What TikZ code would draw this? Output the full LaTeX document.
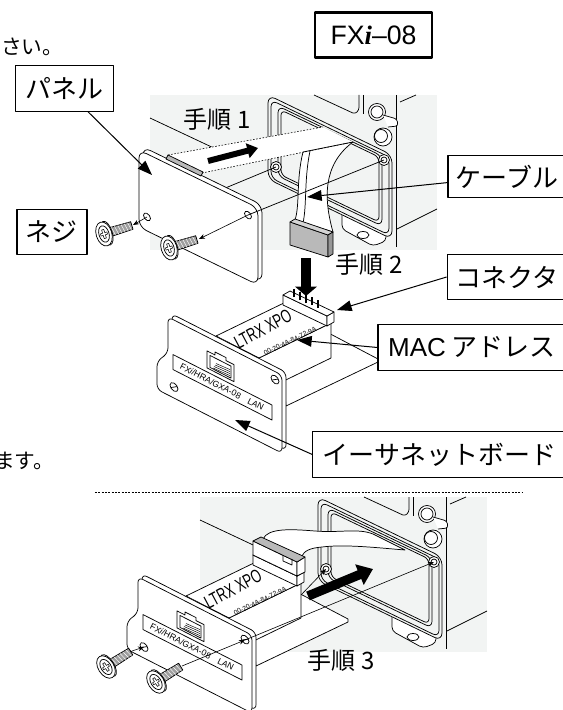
\documentclass[tikz,border=0pt]{standalone}
\usepackage{fontspec}
\usepackage{graphicx}
\setmainfont{Liberation Sans}
\newfontfamily\jpfont{Noto Sans CJK JP}
\newfontfamily\italicserif{Liberation Serif}
\usetikzlibrary{arrows.meta, positioning}
\definecolor{housingcolor}{RGB}{242,244,243}
\definecolor{plugcolor}{RGB}{185,185,185}
\definecolor{plugdark}{RGB}{150,150,150}

\begin{document}
\begin{tikzpicture}[
    x=0.75pt, y=-0.75pt,
    line width=0.55pt, line join=round,
    labelbox/.style={draw, line width=0.8pt, font=\jpfont\fontsize{19.5}{20}\selectfont, inner sep=0pt, minimum height=34pt},
    steplabel/.style={font=\jpfont\fontsize{18}{18}\selectfont, inner sep=0pt},
    notetext/.style={font=\jpfont\fontsize{15.5}{16}\selectfont, inner sep=0pt, anchor=west},
    leader/.style={-{Triangle[length=11pt,width=8pt]}, line width=0.75pt},
    guide/.style={-{Stealth[length=4.5pt,width=3.5pt]}, line width=0.45pt},
    pusharrow/.style={-{Triangle[length=8pt,width=11pt]}, line width=4.5pt},
    ghost/.style={dash pattern=on 1.2pt off 1.2pt, line width=0.45pt},
    housing/.pic={
        \fill[housingcolor] (150,95) rectangle (437,250);
        \draw (150,118) -- (218,150);
        \draw[rounded corners=2] (314,95) -- (355,114) -- (359,110) -- (359,95);
        \draw (363,95) -- (363,114);
        \draw (396,95) -- (396,247);
        \draw (400,102) -- (416,95);
        \draw (397,229) -- (437,209);
        % mounting tab
        \draw[fill=white, rounded corners=3] (342,210) -- (342,229) -- (373,246) -- (386,241) -- (386,230) -- cycle;
        \draw (363,235) ellipse (6 and 3.5);
        % front frame
        \draw[fill=housingcolor, rounded corners=6] (268,95) -- (268,179) -- (392,239) -- (392,155) -- cycle;
        \draw[rounded corners=5] (271,100) -- (271,178) -- (389,235) -- (389,157) -- cycle;
        \draw[rounded corners=5] (278,106) -- (278,176) -- (382,226) -- (382,156) -- cycle;
        \draw[rounded corners=4] (281,110) -- (281,175) -- (379,222) -- (379,157) -- cycle;
        \draw[fill=white] (276,167) circle (5.5);
        \draw (276,167) circle (3);
        \draw[fill=white] (384,160) circle (5.5);
        \draw (384,160) circle (3);
        % knobs
        \draw[fill=white] (377,112) circle (8.5);
        \draw (377,112) circle (6);
        \draw[fill=white, rounded corners=2] (383,115) -- (397,119) -- (398,126) -- (388,127);
        \draw[fill=white] (383,137) circle (9);
        \draw (381,136) circle (6.5);
    },
    board/.pic={
        % circuit board
        \draw[fill=white] (300,318) -- (378,359) -- (378,362) -- (286,406) -- (284,382) -- cycle;
        % module
        \draw[fill=white] (259,358) -- (331,323) -- (331,358) -- (259,393) -- cycle;
        \draw[fill=white] (216,336) -- (288,301) -- (331,323) -- (259,358) -- cycle;
        % pin header
        \draw[fill=white] (283,295) -- (327,316) -- (327,326) -- (283,305) -- cycle;
        \draw[fill=white] (327,316) -- (334,312) -- (334,322) -- (327,326) -- cycle;
        \draw[fill=white] (283,295) -- (290,291) -- (334,312) -- (327,316) -- cycle;
        \node[rotate=28, inner sep=0pt] (-brand) at (263,329) {\fontsize{14}{14}\selectfont\scalebox{0.68}[1]{LTRX XPO}};
        \node[rotate=25, inner sep=0pt] (-address) at (290,341) {\fontsize{5}{6}\selectfont 00-20-4A-84-72-9A};
        % front plate
        \begin{scope}[shift={(168,317)}, yslant=-0.51]
            \draw[fill=white, rounded corners=4] (4,-5) -- (118,-5) -- (118,73) -- (-7,73) -- (-7,45) -- (4,31) -- cycle;
            \draw[fill=white, rounded corners=4] (0,0) -- (114,0) -- (114,78) -- (-11,78) -- (-11,50) -- (0,36) -- cycle;
            \draw (5,35) rectangle (104,50);
            \draw (39,14) -- (47,14) -- (47,11) -- (58,11) -- (58,14) -- (66,14) -- (66,31) -- (39,31) -- cycle;
            \draw (42,17) -- (63,17) -- (63,29) -- (42,29) -- cycle;
            \draw[line width=0.35pt] (48,22) -- (62,21) (47,24) -- (62,23) (46,26) -- (62,25) (45,28) -- (62,27);
            \draw[fill=white] (6,67) circle (4);
            \draw (3,69) -- (9,65);
            \draw[fill=white] (107,8) circle (4);
            \draw (104,10) -- (110,6);
        \end{scope}
        \node[rotate=-27, inner sep=0pt] (-tag) at (222,387) {\fontsize{6.5}{7}\selectfont FX\textit{i}/HRA/GXA-08\quad LAN};
    },
    screw/.pic={
        \draw[fill=gray!75] (5,-4) -- (26,-3.5) -- (26,3.5) -- (5,4) -- cycle;
        \draw[white, line width=0.35pt] (8,-3.8) -- (9.5,3.8) (11,-3.8) -- (12.5,3.8) (14,-3.7) -- (15.5,3.7) (17,-3.7) -- (18.5,3.7) (20,-3.6) -- (21.5,3.6) (23,-3.6) -- (24.5,3.6);
        \draw[fill=white] (2.5,0) ellipse (5 and 11);
        \draw[fill=white] (0,0) ellipse (7 and 11);
        \draw (0,0) ellipse (4.5 and 7.5);
        \draw[fill=white, line width=0.4pt] (-1,-4) -- (1,-4) -- (1,-1) -- (3,-1) -- (3,1) -- (1,1) -- (1,4) -- (-1,4) -- (-1,1) -- (-3,1) -- (-3,-1) -- (-1,-1) -- cycle;
    }
]
    \useasboundingbox (0,0) rectangle (562,710);

    % Housings
    \pic (upperhousing) at (0,0) {housing};
    \pic (lowerhousing) at (50,402) {housing};

    % Step 1: cover taken off
    \fill[white] (168,155) -- (323,127) -- (353,142) -- (202,173) -- cycle;
    \draw[fill=white] (303,152) .. controls (296,180) and (300,205) .. (295,220) -- (333,232) .. controls (324,200) and (322,165) .. (353,142) -- cycle;
    \draw (310,151) .. controls (304,180) and (307,205) .. (303,223);
    \draw[ghost] (168,155) -- (323,127);
    \draw[ghost] (202,173) -- (353,142);
    \draw[fill=plugcolor] (290,222) -- (328,235) -- (328,257) -- (290,245) -- cycle;
    \draw[fill=plugcolor!60] (290,222) -- (295,219) -- (333,232) -- (328,235) -- cycle;
    \draw[fill=plugdark] (328,235) -- (333,232) -- (333,254) -- (328,257) -- cycle;

    \coordinate (coverEdge) at (223,189);
    \coordinate (frameHoleA) at (276,167);
    \coordinate (frameHoleB) at (384,160);
    \draw (coverEdge) -- (frameHoleA);

    \begin{scope}[shift={(139,150)}, yslant=-0.487]
        \draw[fill=white, rounded corners=6] (4,-5) -- (123,-5) -- (123,72) -- (4,72) -- cycle;
        \draw[fill=white, rounded corners=6] (0,0) -- (119,0) -- (119,77) -- (0,77) -- cycle;
        \draw (8,63) circle (3.5);
        \draw (109,12) circle (3.5);
    \end{scope}
    \draw[fill=plugcolor] (166,159) -- (168,155) -- (203,172) -- (201,176) -- cycle;

    \coordinate (coverHoleA) at (147,217);
    \coordinate (coverHoleB) at (248,215);
    \draw (coverHoleB) -- (frameHoleB);

    \coordinate (pushA) at (208,161);
    \coordinate (pushB) at (258,148);
    \draw[pusharrow] (pushA) -- (pushB);

    % Screws of the cover
    \pic[rotate=17, scale=1.12] (screwA) at (104,234) {screw};
    \pic[rotate=17, scale=1.12] (screwB) at (169,248) {screw};
    \coordinate (screwTipA) at (133,225);
    \coordinate (screwTipB) at (199,239);
    \draw[guide] (coverHoleA) -- (screwTipA);
    \draw[guide] (coverHoleB) -- (screwTipB);

    % Step 2: cable onto the board
    \pic (upperboard) at (0,0) {board};
    \draw[line width=0.9pt] (294,297) -- (294,289) (300,300) -- (300,292) (306,303) -- (306,295) (312,305) -- (312,297) (318,308) -- (318,300);
    \coordinate (pushC) at (306,258);
    \coordinate (pushD) at (306,296);
    \draw[-{Triangle[length=7pt,width=16pt]}, line width=8pt] (pushC) -- (pushD);

    % Separator
    \coordinate (sepL) at (95,492);
    \coordinate (sepR) at (523,492);
    \draw[dash pattern=on 1.5pt off 1pt, line width=0.5pt] (sepL) -- (sepR);

    % Step 3: board into the housing
    \draw[fill=white] (263,539) .. controls (268,528) and (290,529) .. (315,531) .. controls (340,533) and (358,528) .. (373,534) -- (405,550) .. controls (380,548) and (345,544) .. (322,547) .. controls (310,548) and (304,551) .. (302,556) -- cycle;
    \pic (lowerboard) at (-30,260) {board};
    \draw[fill=white] (253,541) -- (297,562) -- (297,576) -- (253,555) -- cycle;
    \draw[fill=white] (297,562) -- (305,557) -- (305,572) -- (297,576) -- cycle;
    \draw[fill=plugcolor] (253,541) -- (261,537) -- (305,557) -- (297,562) -- cycle;
    \draw (283,555) -- (283,561) -- (292,565) -- (292,559);

    \coordinate (moduleEdge) at (301,595);
    \coordinate (frameHoleC) at (326,569);
    \coordinate (frameHoleD) at (434,562);
    \coordinate (plateHoleC) at (144,647);
    \coordinate (plateHoleD) at (245,640);
    \draw[guide] (moduleEdge) -- (frameHoleC);
    \draw[guide] (plateHoleD) -- (frameHoleD);

    \coordinate (pushE) at (308,596);
    \coordinate (pushF) at (373,569);
    \draw[-{Triangle[length=11pt,width=16pt]}, line width=7pt] (pushE) -- (pushF);

    \pic[rotate=32, scale=1.12] (screwC) at (106,667) {screw};
    \pic[rotate=32, scale=1.12] (screwD) at (156,682) {screw};
    \coordinate (screwTipC) at (132,651);
    \coordinate (screwTipD) at (182,666);
    \draw[guide] (screwTipC) -- (plateHoleC);
    \draw[guide] (screwTipD) -- (plateHoleD);

    % Step labels
    \node[steplabel] (stepOne) at (217,119) {手順 1};
    \node[steplabel] (stepTwo) at (369,264) {手順 2};
    \node[steplabel] (stepThree) at (341,660) {手順 3};

    % Notes cut at the margin
    \node[notetext] (prevNote) at (-20,47) {ださい。};
    \node[notetext] (nextNote) at (-27,461) {します。};

    % Model
    \node[draw, line width=1.8pt, minimum width=87.5pt, minimum height=34pt, inner sep=0pt, font=\fontsize{20}{20}\selectfont] (model) at (373.5,35) {FX{\italicserif\bfseries\itshape i}\textendash 08};

    % Part labels
    \node[labelbox, minimum width=74pt] (panel) at (64.5,88.5) {パネル};
    \node[labelbox, minimum width=52.5pt] (screw) at (52,232) {ネジ};
    \node[labelbox, minimum width=88.5pt, minimum height=32pt] (cable) at (507,176.5) {ケーブル};
    \node[labelbox, minimum width=89pt] (connector) at (506.5,277) {コネクタ};
    \node[labelbox, minimum width=141pt] (mac) at (472,347.5) {{\normalfont MAC} アドレス};
    \node[labelbox, minimum width=190pt] (ether) at (439.5,454.5) {イーサネットボード};

    % Leaders
    \coordinate (panelTip) at (152,175);
    \coordinate (cableTip) at (307,197);
    \coordinate (connectorTip) at (337,310);
    \coordinate (macTip) at (297,340);
    \coordinate (etherTip) at (235,420);
    \draw[leader] (panel) -- (panelTip);
    \draw[leader] (cable) -- (cableTip);
    \draw[leader] (connector.west) -- (connectorTip);
    \draw[leader] (mac.west) -- (macTip);
    \draw[leader] (ether.west) -- (etherTip);
\end{tikzpicture}
\end{document}
